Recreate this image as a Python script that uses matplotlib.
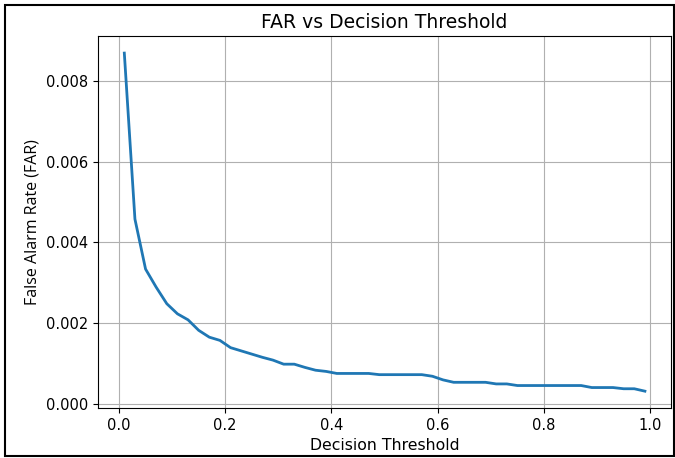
import numpy as np
import matplotlib
matplotlib.use("Agg")
import matplotlib.pyplot as plt
from matplotlib.patches import Rectangle

# thresholds 0.01 .. 0.99, step 0.02
thresholds = [0.01, 0.03, 0.05, 0.07, 0.09, 0.11, 0.13, 0.15, 0.17, 0.19,
              0.21, 0.23, 0.25, 0.27, 0.29, 0.31, 0.33, 0.35, 0.37, 0.39,
              0.41, 0.43, 0.45, 0.47, 0.49, 0.51, 0.53, 0.55, 0.57, 0.59,
              0.61, 0.63, 0.65, 0.67, 0.69, 0.71, 0.73, 0.75, 0.77, 0.79,
              0.81, 0.83, 0.85, 0.87, 0.89, 0.91, 0.93, 0.95, 0.97, 0.99]
far = [0.0087, 0.00458, 0.00334, 0.00289, 0.00248, 0.00223, 0.00208, 0.00182, 0.00165, 0.00157,
       0.00139, 0.00131, 0.00123, 0.00115, 0.00108, 0.00098, 0.00098, 0.00090, 0.00083, 0.00080,
       0.00075, 0.00075, 0.00075, 0.00075, 0.00072, 0.00072, 0.00072, 0.00072, 0.00072, 0.00068,
       0.00059, 0.00053, 0.00053, 0.00053, 0.00053, 0.00049, 0.00049, 0.00045, 0.00045, 0.00045,
       0.00045, 0.00045, 0.00045, 0.00045, 0.00040, 0.00040, 0.00040, 0.00037, 0.00037, 0.00031]

fig = plt.figure(figsize=(6.75, 4.58), dpi=100)
ax = fig.add_axes([0.1456, 0.109, 0.8484, 0.812])

ax.plot(thresholds, far, color="#1f77b4", linewidth=2)
ax.set_title("FAR vs Decision Threshold", fontsize=13.5)
ax.set_xlabel("Decision Threshold", fontsize=11.3)
ax.set_ylabel("False Alarm Rate (FAR)", fontsize=11.5, family="Open Sans")
ax.tick_params(labelsize=10.5)
ax.grid(True)

# black frame round the whole picture
fig.patches.append(Rectangle((5 / 675, 2 / 458), 668.5 / 675, 451.5 / 458,
                             transform=fig.transFigure, fill=False,
                             edgecolor="black", linewidth=1.5))

fig.savefig("out.png", dpi=100)
